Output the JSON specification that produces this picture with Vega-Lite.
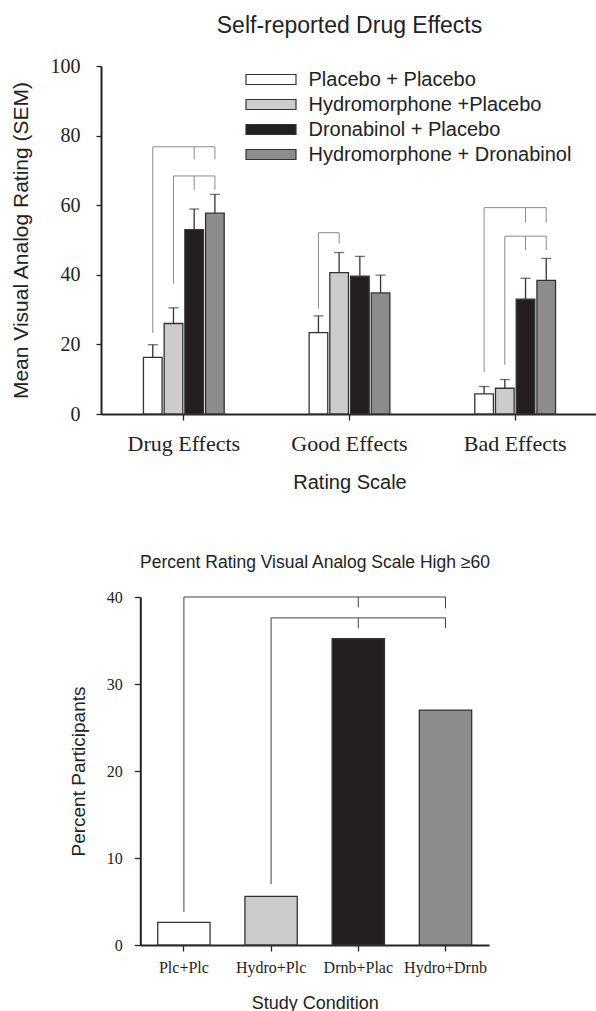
{
  "$schema": "https://vega.github.io/schema/vega-lite/v6.json",
  "padding": {"left": 10, "top": 15, "right": 0, "bottom": 0},
  "background": "white",
  "config": {"view": {"stroke": null}, "font": "Liberation Sans", "axis": {"grid": false}},
  "datasets": {
    "top": [
      {"scale": "Drug Effects", "cond": "Placebo + Placebo", "mean": 16.3, "upper": 19.9},
      {"scale": "Drug Effects", "cond": "Hydromorphone +Placebo", "mean": 26.0, "upper": 30.5},
      {"scale": "Drug Effects", "cond": "Dronabinol + Placebo", "mean": 53.0, "upper": 58.9},
      {"scale": "Drug Effects", "cond": "Hydromorphone + Dronabinol", "mean": 57.7, "upper": 63.1},
      {"scale": "Good Effects", "cond": "Placebo + Placebo", "mean": 23.4, "upper": 28.2},
      {"scale": "Good Effects", "cond": "Hydromorphone +Placebo", "mean": 40.6, "upper": 46.4},
      {"scale": "Good Effects", "cond": "Dronabinol + Placebo", "mean": 39.6, "upper": 45.3},
      {"scale": "Good Effects", "cond": "Hydromorphone + Dronabinol", "mean": 34.8, "upper": 39.9},
      {"scale": "Bad Effects", "cond": "Placebo + Placebo", "mean": 5.8, "upper": 7.9},
      {"scale": "Bad Effects", "cond": "Hydromorphone +Placebo", "mean": 7.4, "upper": 9.9},
      {"scale": "Bad Effects", "cond": "Dronabinol + Placebo", "mean": 33.0, "upper": 39.0},
      {"scale": "Bad Effects", "cond": "Hydromorphone + Dronabinol", "mean": 38.4, "upper": 44.7}
    ],
    "topBrackets": [
      {"seg": "d1", "o": 1, "scale": "Drug Effects", "cond": "Placebo + Placebo", "v": 23.3},
      {"seg": "d1", "o": 2, "scale": "Drug Effects", "cond": "Placebo + Placebo", "v": 76.8},
      {"seg": "d1", "o": 3, "scale": "Drug Effects", "cond": "Hydromorphone + Dronabinol", "v": 76.8},
      {"seg": "d1", "o": 4, "scale": "Drug Effects", "cond": "Hydromorphone + Dronabinol", "v": 73.2},
      {"seg": "d1m", "o": 1, "scale": "Drug Effects", "cond": "Dronabinol + Placebo", "v": 76.8},
      {"seg": "d1m", "o": 2, "scale": "Drug Effects", "cond": "Dronabinol + Placebo", "v": 73.2},
      {"seg": "d2", "o": 1, "scale": "Drug Effects", "cond": "Hydromorphone +Placebo", "v": 37.5},
      {"seg": "d2", "o": 2, "scale": "Drug Effects", "cond": "Hydromorphone +Placebo", "v": 68.4},
      {"seg": "d2", "o": 3, "scale": "Drug Effects", "cond": "Hydromorphone + Dronabinol", "v": 68.4},
      {"seg": "d2", "o": 4, "scale": "Drug Effects", "cond": "Hydromorphone + Dronabinol", "v": 64.4},
      {"seg": "d2m", "o": 1, "scale": "Drug Effects", "cond": "Dronabinol + Placebo", "v": 68.4},
      {"seg": "d2m", "o": 2, "scale": "Drug Effects", "cond": "Dronabinol + Placebo", "v": 64.4},
      {"seg": "g1", "o": 1, "scale": "Good Effects", "cond": "Placebo + Placebo", "v": 30.3},
      {"seg": "g1", "o": 2, "scale": "Good Effects", "cond": "Placebo + Placebo", "v": 52.1},
      {"seg": "g1", "o": 3, "scale": "Good Effects", "cond": "Hydromorphone +Placebo", "v": 52.1},
      {"seg": "g1", "o": 4, "scale": "Good Effects", "cond": "Hydromorphone +Placebo", "v": 49.0},
      {"seg": "b1", "o": 1, "scale": "Bad Effects", "cond": "Placebo + Placebo", "v": 12.0},
      {"seg": "b1", "o": 2, "scale": "Bad Effects", "cond": "Placebo + Placebo", "v": 59.3},
      {"seg": "b1", "o": 3, "scale": "Bad Effects", "cond": "Hydromorphone + Dronabinol", "v": 59.3},
      {"seg": "b1", "o": 4, "scale": "Bad Effects", "cond": "Hydromorphone + Dronabinol", "v": 55.0},
      {"seg": "b1m", "o": 1, "scale": "Bad Effects", "cond": "Dronabinol + Placebo", "v": 59.3},
      {"seg": "b1m", "o": 2, "scale": "Bad Effects", "cond": "Dronabinol + Placebo", "v": 55.0},
      {"seg": "b2", "o": 1, "scale": "Bad Effects", "cond": "Hydromorphone +Placebo", "v": 14.1},
      {"seg": "b2", "o": 2, "scale": "Bad Effects", "cond": "Hydromorphone +Placebo", "v": 51.1},
      {"seg": "b2", "o": 3, "scale": "Bad Effects", "cond": "Hydromorphone + Dronabinol", "v": 51.1},
      {"seg": "b2", "o": 4, "scale": "Bad Effects", "cond": "Hydromorphone + Dronabinol", "v": 47.1},
      {"seg": "b2m", "o": 1, "scale": "Bad Effects", "cond": "Dronabinol + Placebo", "v": 51.1},
      {"seg": "b2m", "o": 2, "scale": "Bad Effects", "cond": "Dronabinol + Placebo", "v": 47.1}
    ],
    "bottom": [
      {"study": "Plc+Plc", "pct": 2.6},
      {"study": "Hydro+Plc", "pct": 5.6},
      {"study": "Drnb+Plac", "pct": 35.2},
      {"study": "Hydro+Drnb", "pct": 27.0}
    ],
    "bottomBrackets": [
      {"seg": "a", "o": 1, "study": "Plc+Plc", "v": 3.8},
      {"seg": "a", "o": 2, "study": "Plc+Plc", "v": 40},
      {"seg": "a", "o": 3, "study": "Hydro+Drnb", "v": 40},
      {"seg": "a", "o": 4, "study": "Hydro+Drnb", "v": 38.7},
      {"seg": "am", "o": 1, "study": "Drnb+Plac", "v": 40},
      {"seg": "am", "o": 2, "study": "Drnb+Plac", "v": 38.8},
      {"seg": "b", "o": 1, "study": "Hydro+Plc", "v": 7.0},
      {"seg": "b", "o": 2, "study": "Hydro+Plc", "v": 37.6},
      {"seg": "b", "o": 3, "study": "Hydro+Drnb", "v": 37.6},
      {"seg": "b", "o": 4, "study": "Hydro+Drnb", "v": 36.4},
      {"seg": "bm", "o": 1, "study": "Drnb+Plac", "v": 37.6},
      {"seg": "bm", "o": 2, "study": "Drnb+Plac", "v": 36.4}
    ]
  },
  "spacing": 61,
  "resolve": {"scale": {"fill": "independent"}, "legend": {"fill": "independent"}},
  "vconcat": [
    {
      "title": {"text": "Self-reported Drug Effects", "font": "Liberation Sans", "fontSize": 23, "fontWeight": "normal", "color": "#222", "anchor": "middle", "offset": 18},
      "width": 497,
      "height": 348,
      "layer": [
        {
          "data": {"name": "top"},
          "mark": {"type": "bar", "stroke": "#333", "strokeWidth": 1.3},
          "encoding": {
            "x": {"field": "scale", "type": "nominal", "sort": ["Drug Effects", "Good Effects", "Bad Effects"],
                  "scale": {"paddingInner": 0.5, "paddingOuter": 0.25},
                  "title": "Rating Scale",
                  "axis": {"labelFont": "Liberation Serif", "labelFontSize": 22, "labelColor": "#222", "labelAngle": 0, "tickSize": 6, "tickColor": "#222", "tickWidth": 1.3, "domainColor": "#222", "domainWidth": 2, "labelPadding": 13, "titleFont": "Liberation Sans", "titleFontSize": 20, "titleFontWeight": "normal", "titleColor": "#222", "titlePadding": 18}},
            "xOffset": {"field": "cond", "type": "nominal", "sort": ["Placebo + Placebo", "Hydromorphone +Placebo", "Dronabinol + Placebo", "Hydromorphone + Dronabinol"], "scale": {"paddingInner": 0.1, "paddingOuter": 0.05}},
            "y": {"field": "mean", "type": "quantitative", "scale": {"domain": [0, 100]},
                  "title": "Mean Visual Analog Rating (SEM)",
                  "axis": {"values": [0, 20, 40, 60, 80, 100], "labelFont": "Liberation Serif", "labelFontSize": 20, "labelColor": "#222", "tickSize": 5, "tickColor": "#222", "tickWidth": 1.3, "domainColor": "#222", "domainWidth": 2, "labelPadding": 16, "titleFont": "Liberation Sans", "titleFontSize": 21, "titleFontWeight": "normal", "titleColor": "#222", "titlePadding": 19}},
            "fill": {"field": "cond", "type": "nominal",
                     "scale": {"domain": ["Placebo + Placebo", "Hydromorphone +Placebo", "Dronabinol + Placebo", "Hydromorphone + Dronabinol"], "range": ["#ffffff", "#cccccc", "#231f20", "#8c8c8c"]},
                     "legend": {"orient": "none", "legendX": 156.5, "legendY": 0, "title": null, "padding": 0, "symbolType": "M-2,-0.4H2V0.4H-2Z", "symbolSize": 625, "symbolStrokeColor": "#333", "symbolStrokeWidth": 1.2, "symbolOpacity": 1, "labelFont": "Liberation Sans", "labelFontSize": 20, "labelColor": "#222", "labelOffset": 24, "labelLimit": 400, "rowPadding": 1}}
          }
        },
        {
          "data": {"name": "top"},
          "mark": {"type": "rule", "color": "#333", "strokeWidth": 1.3},
          "encoding": {
            "x": {"field": "scale", "type": "nominal", "sort": ["Drug Effects", "Good Effects", "Bad Effects"]},
            "xOffset": {"field": "cond", "type": "nominal", "sort": ["Placebo + Placebo", "Hydromorphone +Placebo", "Dronabinol + Placebo", "Hydromorphone + Dronabinol"]},
            "y": {"field": "mean", "type": "quantitative"},
            "y2": {"field": "upper"}
          }
        },
        {
          "data": {"name": "top"},
          "mark": {"type": "tick", "color": "#333", "size": 10, "thickness": 1.3},
          "encoding": {
            "x": {"field": "scale", "type": "nominal", "sort": ["Drug Effects", "Good Effects", "Bad Effects"]},
            "xOffset": {"field": "cond", "type": "nominal", "sort": ["Placebo + Placebo", "Hydromorphone +Placebo", "Dronabinol + Placebo", "Hydromorphone + Dronabinol"]},
            "y": {"field": "upper", "type": "quantitative"}
          }
        },
        {
          "data": {"name": "topBrackets"},
          "mark": {"type": "line", "color": "#8a8a8a", "strokeWidth": 1},
          "encoding": {
            "x": {"field": "scale", "type": "nominal", "sort": ["Drug Effects", "Good Effects", "Bad Effects"]},
            "xOffset": {"field": "cond", "type": "nominal", "sort": ["Placebo + Placebo", "Hydromorphone +Placebo", "Dronabinol + Placebo", "Hydromorphone + Dronabinol"]},
            "y": {"field": "v", "type": "quantitative"},
            "detail": {"field": "seg"},
            "order": {"field": "o", "type": "quantitative"}
          }
        }
      ]
    },
    {
      "title": {"text": "Percent Rating Visual Analog Scale High ≥60", "font": "Liberation Sans", "fontSize": 17.5, "fontWeight": "normal", "color": "#222", "anchor": "middle", "dx": 19, "offset": 18},
      "width": 390,
      "height": 348,
      "layer": [
        {
          "data": {"name": "bottom"},
          "mark": {"type": "bar", "stroke": "#333", "strokeWidth": 1.3},
          "encoding": {
            "x": {"field": "study", "type": "nominal", "sort": ["Plc+Plc", "Hydro+Plc", "Drnb+Plac", "Hydro+Drnb"],
                  "scale": {"range": [39.3, 388.1], "paddingInner": 0.4, "paddingOuter": 0.2},
                  "title": "Study Condition",
                  "axis": {"labelFont": "Liberation Serif", "labelFontSize": 16, "labelColor": "#222", "labelAngle": 0, "tickSize": 6, "tickColor": "#222", "tickWidth": 1.3, "domainColor": "#222", "domainWidth": 2, "labelPadding": 8, "titleFont": "Liberation Sans", "titleFontSize": 18, "titleFontWeight": "normal", "titleColor": "#222", "titlePadding": 19}},
            "y": {"field": "pct", "type": "quantitative", "scale": {"domain": [0, 40]},
                  "title": "Percent Participants",
                  "axis": {"offset": -39.3, "values": [0, 10, 20, 30, 40], "labelFont": "Liberation Serif", "labelFontSize": 16, "labelColor": "#222", "tickSize": 6, "tickColor": "#222", "tickWidth": 1.3, "domainColor": "#222", "domainWidth": 2, "labelPadding": 12, "titleFont": "Liberation Sans", "titleFontSize": 19, "titleFontWeight": "normal", "titleColor": "#222", "titlePadding": 18}},
            "fill": {"field": "study", "type": "nominal",
                     "scale": {"domain": ["Plc+Plc", "Hydro+Plc", "Drnb+Plac", "Hydro+Drnb"], "range": ["#ffffff", "#cccccc", "#231f20", "#8c8c8c"]},
                     "legend": null}
          }
        },
        {
          "data": {"name": "bottomBrackets"},
          "mark": {"type": "line", "color": "#444", "strokeWidth": 1},
          "encoding": {
            "x": {"field": "study", "type": "nominal", "sort": ["Plc+Plc", "Hydro+Plc", "Drnb+Plac", "Hydro+Drnb"]},
            "y": {"field": "v", "type": "quantitative"},
            "detail": {"field": "seg"},
            "order": {"field": "o", "type": "quantitative"}
          }
        }
      ]
    }
  ]
}
